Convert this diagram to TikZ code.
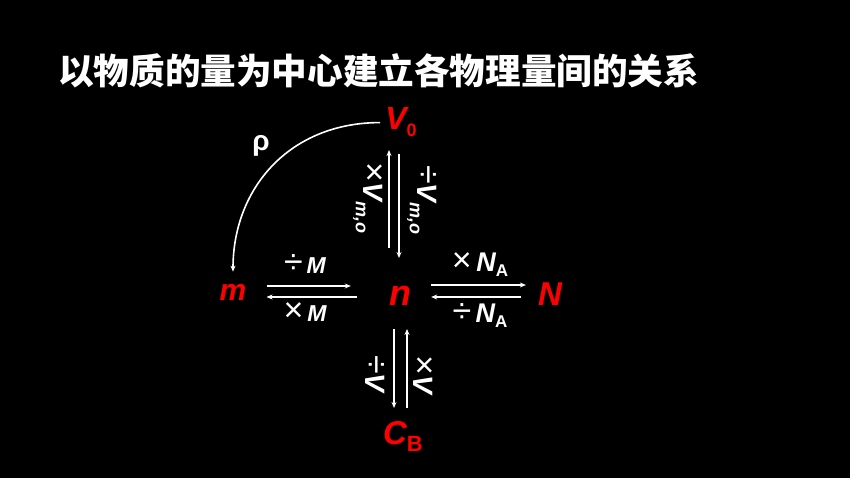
\documentclass[tikz,border=0pt]{standalone}
\usepackage{fontspec}
\setmainfont{Liberation Sans}
\newfontfamily\cjk{Noto Sans CJK SC}
\usetikzlibrary{arrows.meta}

\def\fs#1{\fontsize{#1}{#1}\selectfont}
\def\lowidx#1#2#3{\raisebox{-#3pt}{\upshape\fs{#2}#1}}
\def\opmul{{\mdseries\upshape\fs{34}×}}
\def\opdiv{{\mdseries\upshape\fs{34}÷}}

\begin{document}
\begin{tikzpicture}[x=1pt,y=-1pt]
\tikzset{arr/.style = {draw=white, line width=1.6pt, -{Stealth[length=6pt,width=5pt]}}}
\tikzset{qty/.style = {text=red, inner sep=0pt, anchor=base}}
\tikzset{op/.style = {text=white, inner sep=0pt}}
\fill[black] (0,0) rectangle (850,478);
\node[text=white, anchor=west, inner sep=0pt, font=\cjk\bfseries\fs{35.6}] (title) at (58,71) {以物质的量为中心建立各物理量间的关系};
% quantities
\node[qty, font=\fs{32}\bfseries\itshape] (V0) at (401,130) {V\lowidx{0}{18}{7}};
\node[qty, font=\fs{30}\bfseries\itshape] (m) at (233,300) {m};
\node[qty, font=\fs{36}\bfseries\itshape] (n) at (400,305) {n};
\node[qty, font=\fs{33}\bfseries\itshape] (N) at (550,305) {N};
\node[qty, font=\fs{33}\bfseries\itshape] (CB) at (403,444) {C\lowidx{B}{22}{7}};
% m <-> n
\draw[arr, shorten <=20pt, shorten >=38pt] (m.east |- 0,286) -- (n.west |- 0,286);
\draw[arr, shorten <=32pt, shorten >=20pt] (n.west |- 0,297) -- (m.east |- 0,297);
\node[op, font=\fs{23}\bfseries\itshape] (divM) at (305,264) {\opdiv\,M};
\node[op, font=\fs{23}\bfseries\itshape] (mulM) at (305,312) {\opmul\,M};
% n <-> N
\draw[arr, shorten <=20pt, shorten >=12pt] (n.east |- 0,285) -- (N.west |- 0,285);
\draw[arr, shorten <=17pt, shorten >=20pt] (N.west |- 0,297) -- (n.east |- 0,297);
\node[op, font=\fs{27}\bfseries\itshape] (mulNA) at (480,265) {\opmul\,N\lowidx{A}{17}{5}};
\node[op, font=\fs{27}\bfseries\itshape] (divNA) at (480,316) {\opdiv\,N\lowidx{A}{17}{5}};
% n <-> V0
\draw[arr, shorten <=57pt, shorten >=20pt] (n.base -| 389,0) -- (V0.base -| 389,0);
\draw[arr, shorten <=24pt, shorten >=47pt] (V0.base -| 399,0) -- (n.base -| 399,0);
\node[op, rotate=-90, font=\fs{28}\bfseries\itshape] (mulVm) at (368,198) {\opmul V\lowidx{\itshape m,o}{18}{8}};
\node[op, rotate=-90, font=\fs{28}\bfseries\itshape] (divVm) at (422,200) {\opdiv V\lowidx{\itshape m,o}{18}{8}};
% n <-> CB
\draw[arr, shorten <=24pt, shorten >=36pt] (n.base -| 394,0) -- (CB.base -| 394,0);
\draw[arr, shorten <=36pt, shorten >=24pt] (CB.base -| 407,0) -- (n.base -| 407,0);
\node[op, rotate=-90, font=\fs{28}\bfseries\itshape] (divV) at (375,374) {\opdiv V};
\node[op, rotate=-90, font=\fs{28}\bfseries\itshape] (mulV) at (423,375) {\opmul V};
% density
\draw[arr, shorten <=5pt, shorten >=12pt] (V0.west) to[out=180, in=90, looseness=1.1] (m.north);
\node[op, font=\fs{28}\bfseries] (rho) at (261,146) {ρ};
\end{tikzpicture}
\end{document}
